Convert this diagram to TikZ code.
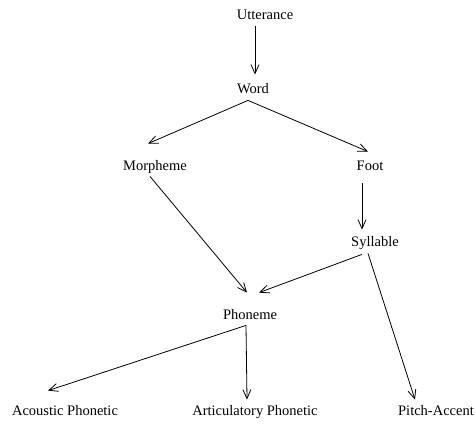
\documentclass[tikz,border=0pt]{standalone}
\usepackage{fontspec}
\setmainfont{Liberation Serif}
\usetikzlibrary{arrows.meta}

\begin{document}
\begin{tikzpicture}[x=1pt,y=-1pt,line width=0.8pt,
	>={Straight Barb[length=9pt,width=8pt]},
	every node/.style={inner sep=3pt,text height=10pt,text depth=3pt,font=\fontsize{14.5}{17}\selectfont}]
	\useasboundingbox (0,0) rectangle (476,425);
	\node (utt) at (265,16.5) {Utterance};
	\node (word) at (253,90.5) {Word};
	\node (morph) at (155,166.5) {Morpheme};
	\node (foot) at (370,166.5) {Foot};
	\node (syll) at (375,242.5) {Syllable};
	\node (phon) at (250,315.5) {Phoneme};
	\node (acou) at (65,411.5) {Acoustic Phonetic};
	\node (artic) at (255,411.5) {Articulatory Phonetic};
	\node (pitch) at (436,411.5) {Pitch-Accent};
	%\node (stress) at (436,411.5) {Stress};

	\draw[->] ([xshift=-10pt]utt.south) -- ([xshift=2pt,yshift=6pt]word.north);
	\draw[->] ([xshift=-5pt]word.south) -- ([xshift=-7pt,yshift=13pt]morph.north);
	\draw[->] ([xshift=-5pt]word.south) -- ([xshift=-2pt,yshift=5pt]foot.north);
	\draw[->] ([xshift=-5pt]morph.south) -- ([xshift=-3pt,yshift=13pt]phon.north);
	\draw[->] ([xshift=-8pt,yshift=-7pt]foot.south) -- ([xshift=-13pt,yshift=3pt]syll.north);
	\draw[->] ([xshift=-13pt,yshift=-2pt]syll.south) -- ([xshift=9pt,yshift=13pt]phon.north);
	\draw[->] ([xshift=-7pt,yshift=-1pt]syll.south) -- ([xshift=-21pt,yshift=2pt]pitch.north);
	\draw[->] ([xshift=-4pt]phon.south) -- ([xshift=-17pt,yshift=11pt]acou.north);
	\draw[->] ([xshift=-4pt]phon.south) -- ([xshift=-8pt,yshift=2pt]artic.north);
\end{tikzpicture}
\end{document}
